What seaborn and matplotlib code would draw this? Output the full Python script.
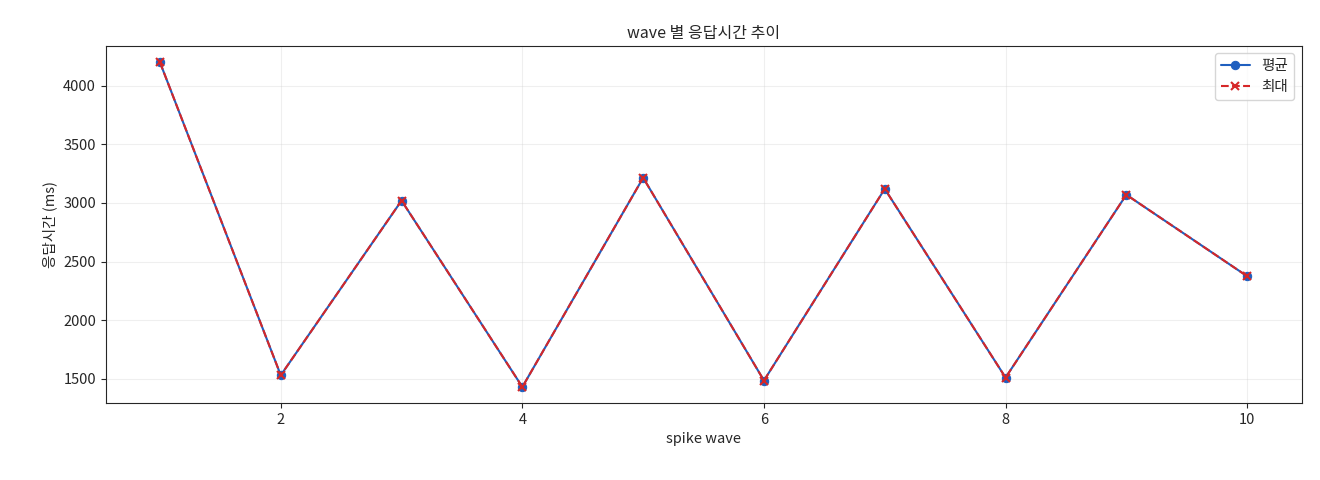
import matplotlib
matplotlib.use("Agg")
import matplotlib.pyplot as plt
import seaborn as sns
import pandas as pd

waves = [1, 2, 3, 4, 5, 6, 7, 8, 9, 10]
avg_ms = [4200, 1530, 3020, 1430, 3215, 1485, 3120, 1510, 3070, 2375]
max_ms = [4200, 1530, 3020, 1430, 3215, 1485, 3120, 1510, 3070, 2375]

sns.set_style("ticks")
plt.rcParams['font.family'] = ['Noto Sans CJK KR', 'DejaVu Sans']
plt.rcParams['axes.unicode_minus'] = False

df = pd.DataFrame({"wave": waves, "avg": avg_ms, "max": max_ms})
fig, ax = plt.subplots(figsize=(13.2, 4.8), dpi=100)
sns.lineplot(data=df, x="wave", y="avg", ax=ax, color="#1f5fbf", marker="o",
             markersize=6, markeredgecolor="#1f5fbf", label="평균", linewidth=1.5)
l = sns.lineplot(data=df, x="wave", y="max", ax=ax, color="#d62728", marker="x",
             markersize=6, markeredgecolor="#d62728", markeredgewidth=1.5,
             label="최대", linewidth=1.5)
ax.lines[-1].set_linestyle((0, (3.7, 1.6)))
ax.set_title("wave 별 응답시간 추이", fontsize=11.5)
ax.set_xlabel("spike wave", fontsize=10.5)
ax.set_ylabel("응답시간 (ms)", fontsize=10.5)
ax.tick_params(labelsize=10.5)
ax.grid(True, alpha=0.3)
ax.legend(loc="upper right", fontsize=10.5)
fig.subplots_adjust(left=0.08, right=0.986, top=0.904, bottom=0.16)
fig.savefig("out.png")
